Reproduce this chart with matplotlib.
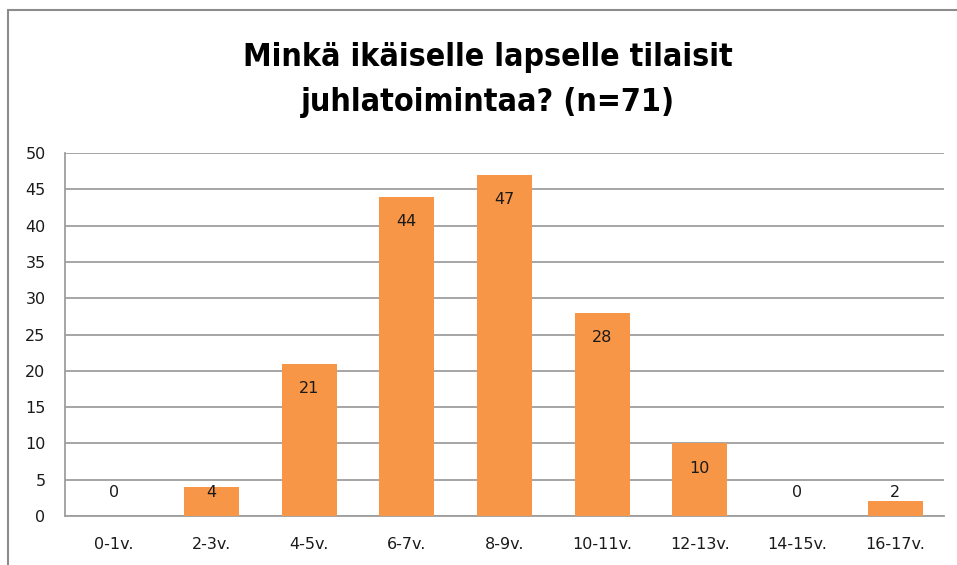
import matplotlib
matplotlib.use("Agg")
import matplotlib.pyplot as plt
from matplotlib.patches import Rectangle

# --- datos ---
categories = ["0-1v.", "2-3v.", "4-5v.", "6-7v.", "8-9v.", "10-11v.", "12-13v.", "14-15v.", "16-17v."]
values = [0, 4, 21, 44, 47, 28, 10, 0, 2]
y_ticks = [0, 5, 10, 15, 20, 25, 30, 35, 40, 45, 50]
title = "Minkä ikäiselle lapselle tilaisit\njuhlatoimintaa? (n=71)"

BAR_COLOR = "#F79646"
GRID_COLOR = "#9E9E9E"

fig = plt.figure(figsize=(9.57, 5.65), dpi=100)
fig.patch.set_facecolor("white")

# marco exterior del gráfico (se corta a la derecha y abajo)
frame = Rectangle((8 / 957, -0.05), 1.2, 1 - 10 / 565 + 0.05, transform=fig.transFigure,
                  fill=False, edgecolor="#8C8C8C", linewidth=1.5)
fig.patches.append(frame)

fig.text(0.51, 0.858, title, ha="center", va="center", fontsize=23,
         family="DejaVu Sans", fontstretch="condensed", fontweight="bold",
         linespacing=1.6)

ax = fig.add_axes([65 / 957, 1 - 516 / 565, (944 - 65) / 957, (516 - 153) / 565])
x = range(len(categories))
ax.bar(x, values, width=0.56, color=BAR_COLOR, zorder=3)

# etiquetas de valor dentro de la barra, cerca del extremo
for i, v in enumerate(values):
    ax.text(i, max(v - 3.45, 3.2), str(v), ha="center", va="center",
            fontsize=11.5, color="#1a1a1a", zorder=4)

ax.set_xlim(-0.5, len(categories) - 0.5)
ax.set_ylim(0, 50)
ax.set_yticks(y_ticks)
ax.set_xticks(list(x))
ax.set_xticklabels(categories)
ax.tick_params(axis="both", length=0, labelsize=11.5, labelcolor="#1a1a1a")
ax.tick_params(axis="y", pad=14)
ax.tick_params(axis="x", pad=15)

ax.grid(axis="y", color=GRID_COLOR, linewidth=1.3, zorder=0)
ax.set_axisbelow(True)
for side in ["top", "right"]:
    ax.spines[side].set_visible(False)
for side in ["left", "bottom"]:
    ax.spines[side].set_color(GRID_COLOR)
    ax.spines[side].set_linewidth(1.3)

plt.savefig("out.png", dpi=100)
